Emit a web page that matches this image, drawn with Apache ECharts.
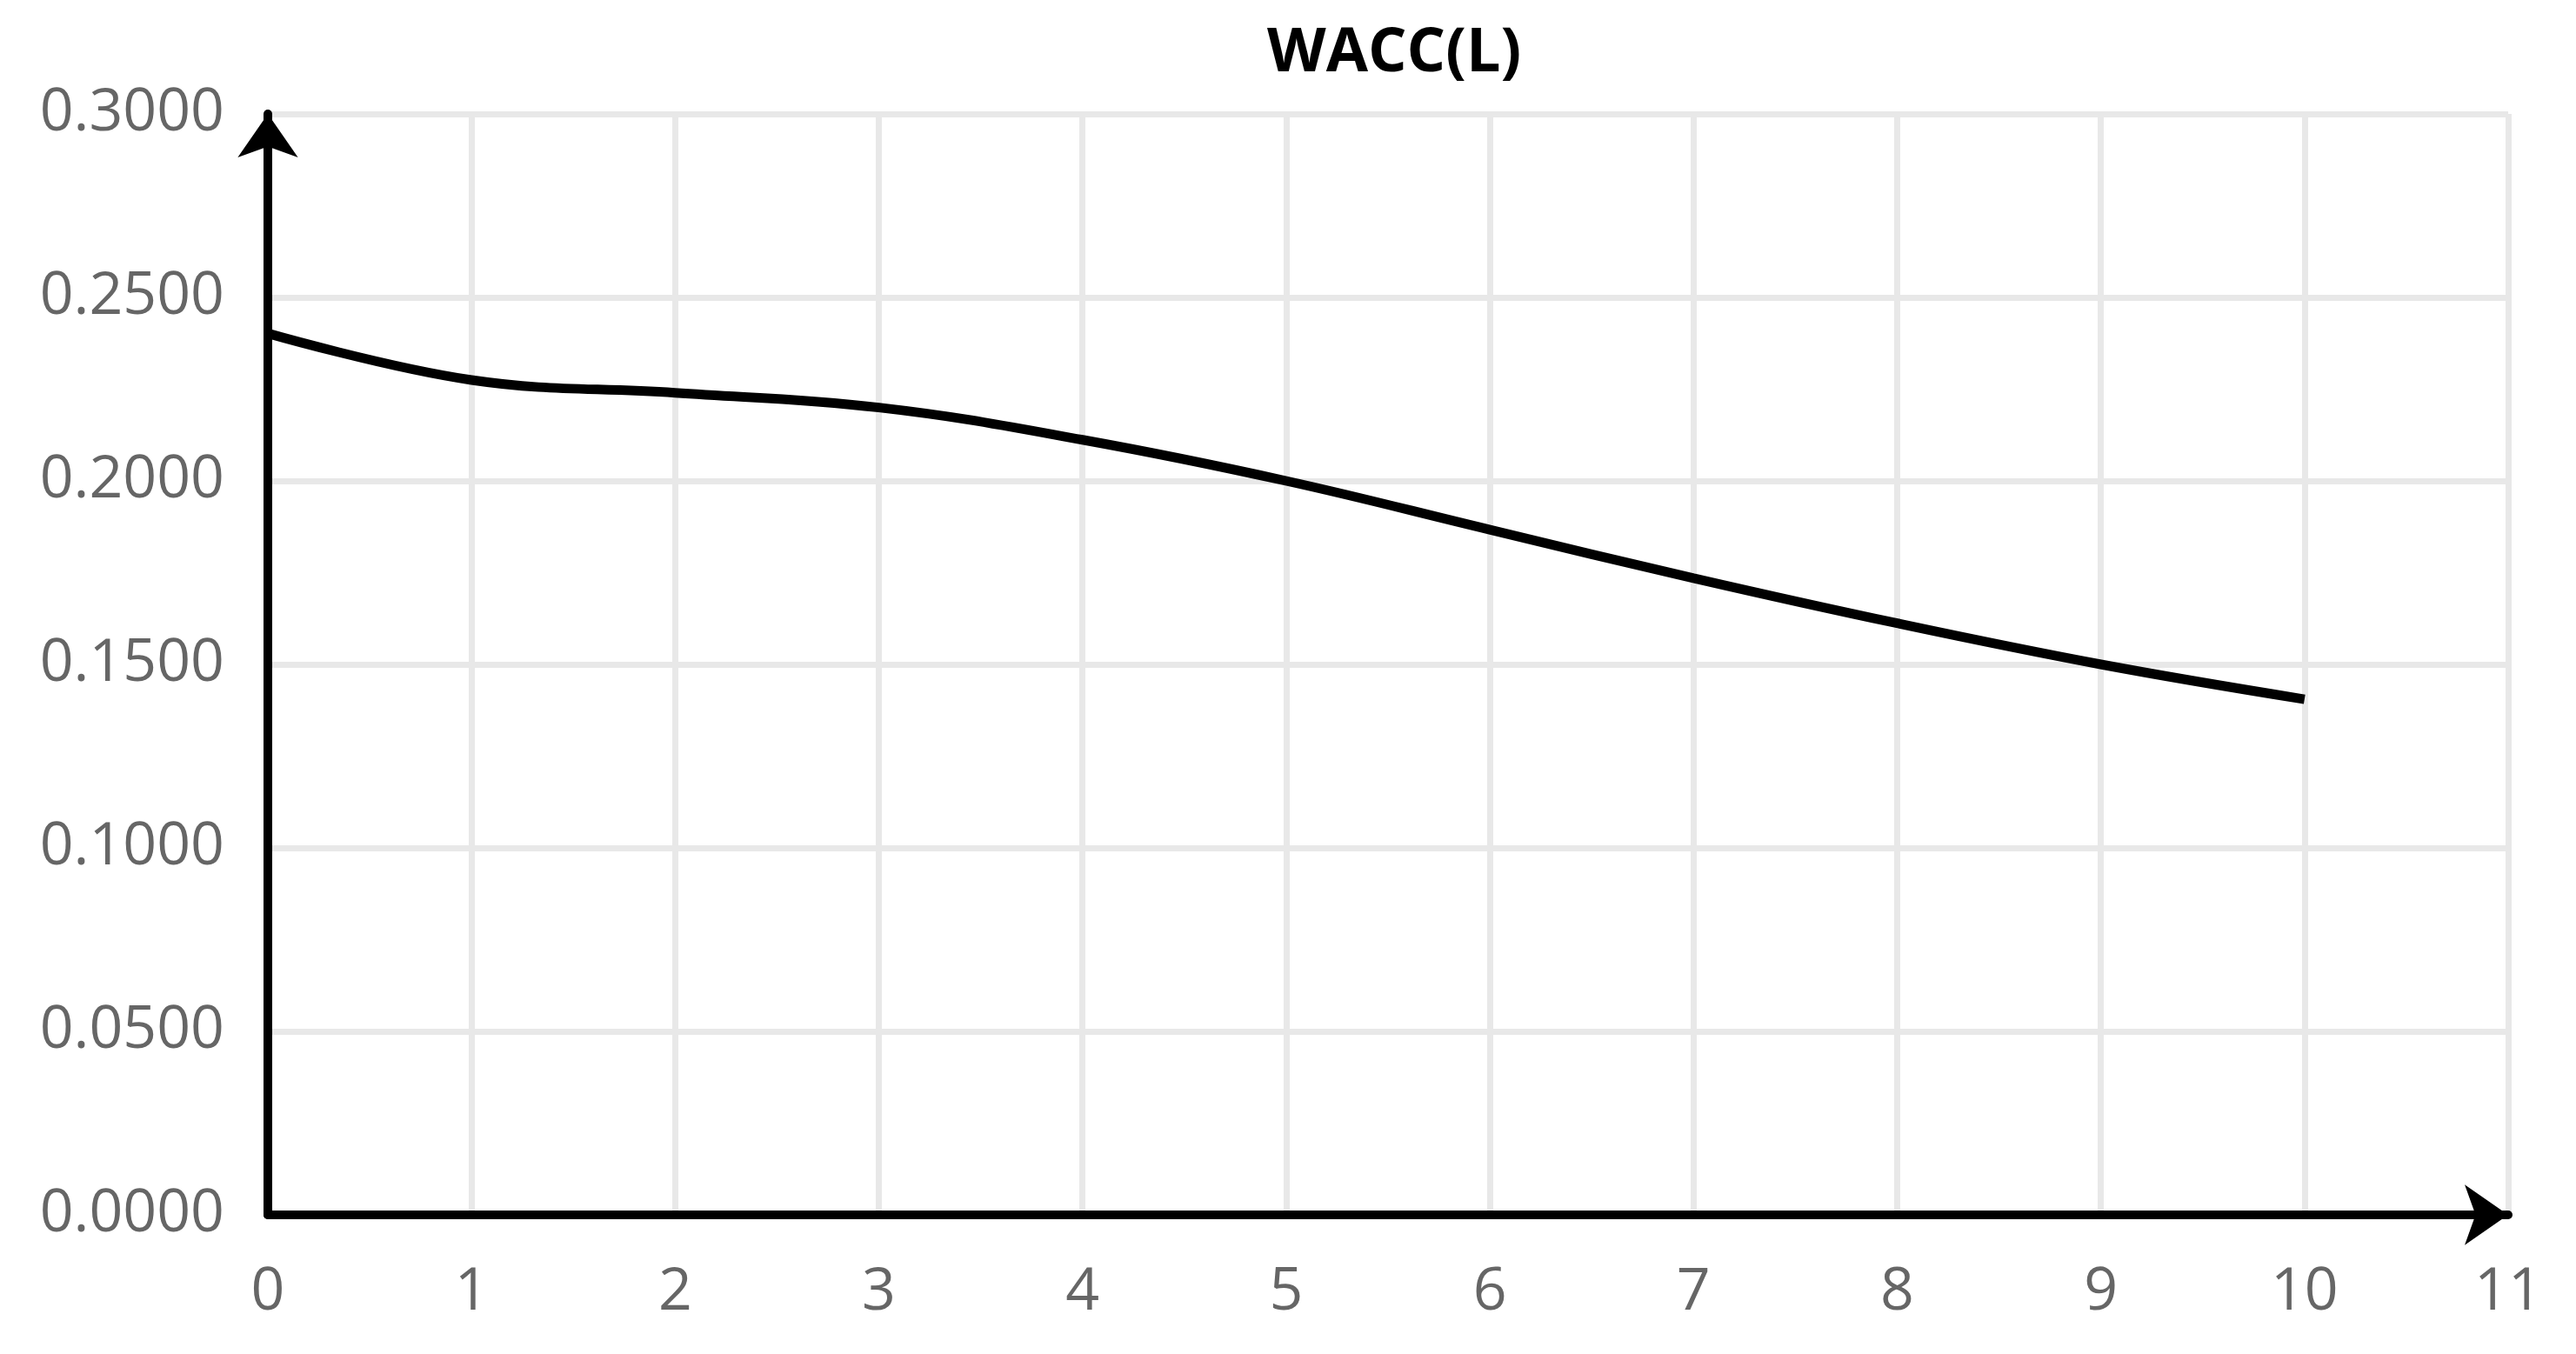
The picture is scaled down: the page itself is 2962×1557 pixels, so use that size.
<!DOCTYPE html>
<html>
<head>
<meta charset="utf-8">
<title>WACC(L)</title>
<script src="https://cdn.jsdelivr.net/npm/echarts@6/dist/echarts.min.js"></script>
<style>
  html, body { margin: 0; padding: 0; background: #fff; }
  #chart { width: 2962px; height: 1557px; }
</style>
</head>
<body>
<div id="chart"></div>
<script>
// data
var years = [0, 1, 2, 3, 4, 5, 6, 7, 8, 9, 10];
var wacc = [0.2402, 0.2275, 0.2240, 0.2200, 0.2112, 0.2000, 0.1867, 0.1735, 0.1612, 0.1500, 0.1405];

var chart = echarts.init(document.getElementById('chart'));

var points = years.map(function (y, i) { return [y, wacc[i]]; });

var option = {
    backgroundColor: '#ffffff',
    animation: false,
    title: {
        text: 'WACC(L)',
        left: 1452,
        top: 22,
        textStyle: {
            fontFamily: 'Open Sans',
            fontWeight: 'bold',
            fontSize: 70,
            color: '#000'
        }
    },
    grid: {
        left: 308,
        right: 78,
        top: 131,
        bottom: 160
    },
    xAxis: {
        type: 'value',
        min: 0,
        max: 11,
        interval: 1,
        axisLine: {
            onZero: false,
            symbol: ['none', 'arrow'],
            symbolSize: [52, 50],
            symbolOffset: [0, 0],
            lineStyle: { color: '#000', width: 10 }
        },
        axisTick: { show: false },
        axisLabel: {
            margin: 56,
            fontFamily: 'Open Sans',
            fontSize: 68,
            color: '#666'
        },
        splitLine: {
            show: true,
            lineStyle: { color: '#e8e8e8', width: 7 }
        }
    },
    yAxis: {
        type: 'value',
        min: 0,
        max: 0.3,
        interval: 0.05,
        axisLine: {
            show: true,
            onZero: false,
            symbol: ['none', 'arrow'],
            symbolSize: [52, 50],
            symbolOffset: [0, 0],
            lineStyle: { color: '#000', width: 10 }
        },
        axisTick: { show: false },
        axisLabel: {
            margin: 50,
            fontFamily: 'Open Sans',
            fontSize: 68,
            color: '#666',
            formatter: function (v) { return v.toFixed(4); }
        },
        splitLine: {
            show: true,
            lineStyle: { color: '#e8e8e8', width: 7 }
        }
    },
    series: [{
        name: 'WACC(L)',
        type: 'line',
        smooth: 0.4,
        showSymbol: false,
        lineStyle: { color: '#000', width: 11 },
        data: points
    }]
};

chart.setOption(option);
</script>
</body>
</html>
